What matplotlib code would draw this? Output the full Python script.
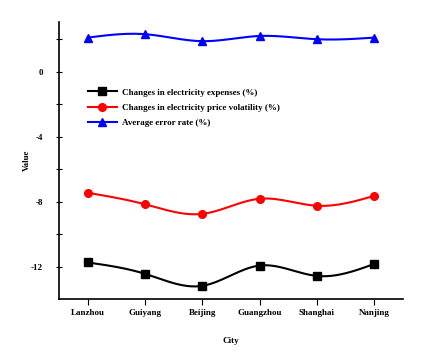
import numpy as np
import matplotlib
matplotlib.use("Agg")
import matplotlib.pyplot as plt

cities = ["Lanzhou", "Guiyang", "Beijing", "Guangzhou", "Shanghai", "Nanjing"]
expenses = [-11.75, -12.45, -13.19, -11.94, -12.58, -11.84]
price_vol = [-7.46, -8.17, -8.76, -7.83, -8.26, -7.65]
error_rate = [2.09, 2.30, 1.87, 2.19, 1.99, 2.09]

plt.rcParams['font.family'] = ['Liberation Serif', 'DejaVu Serif']


def smooth(x, y, n=200):
    # natural cubic spline, only used to draw the smooth connecting line
    x = np.asarray(x, float)
    y = np.asarray(y, float)
    k = len(x)
    h = np.diff(x)
    A = np.zeros((k, k))
    r = np.zeros(k)
    A[0, 0] = A[-1, -1] = 1
    for i in range(1, k - 1):
        A[i, i - 1] = h[i - 1]
        A[i, i] = 2 * (h[i - 1] + h[i])
        A[i, i + 1] = h[i]
        r[i] = 6 * ((y[i + 1] - y[i]) / h[i] - (y[i] - y[i - 1]) / h[i - 1])
    m = np.linalg.solve(A, r)
    xs = np.linspace(x[0], x[-1], n)
    idx = np.clip(np.searchsorted(x, xs) - 1, 0, k - 2)
    x0, x1 = x[idx], x[idx + 1]
    hh = x1 - x0
    t0, t1 = x1 - xs, xs - x0
    ys = (m[idx] * t0 ** 3 + m[idx + 1] * t1 ** 3) / (6 * hh) \
        + (y[idx] / hh - m[idx] * hh / 6) * t0 + (y[idx + 1] / hh - m[idx + 1] * hh / 6) * t1
    return xs, ys


fig = plt.figure(figsize=(4.34, 3.59), dpi=100)
ax = fig.add_axes([59 / 434, 1 - 299 / 359, (403 - 59) / 434, (299 - 22) / 359])

x = np.arange(len(cities))
series = [
    (expenses, 'black', 's', 'Changes in electricity expenses (%)'),
    (price_vol, 'red', 'o', 'Changes in electricity price volatility (%)'),
    (error_rate, 'blue', '^', 'Average error rate (%)'),
]
for vals, col, mk, lab in series:
    xs, ys = smooth(x, vals)
    ax.plot(xs, ys, color=col, lw=1.5)
    ax.plot(x, vals, color=col, marker=mk, ms=5.5, lw=0)
    ax.plot([], [], color=col, marker=mk, ms=5.5, lw=1.5, label=lab)

ax.set_xlim(-0.5, 5.5)
ax.set_ylim(-14, 3.05)
ax.set_xticks(x)
ax.set_xticklabels(cities, fontsize=6.5, fontweight='bold')
ax.set_yticks([0, -4, -8, -12])
ax.set_yticklabels(['0', '-4', '-8', '-12'], fontsize=6.5, fontweight='bold')
ax.set_yticks([2, -2, -6, -10], minor=True)
ax.tick_params(axis='y', which='both', direction='inout', length=5, width=0.8, pad=9)
ax.tick_params(axis='x', direction='out', length=4, width=0.8)
for s in ['top', 'right']:
    ax.spines[s].set_visible(False)
ax.spines['left'].set_linewidth(1.2)
ax.spines['bottom'].set_linewidth(1.2)

ax.set_xlabel('City', fontsize=6.5, fontweight='bold', labelpad=14)
ax.set_ylabel('Value', fontsize=6.5, fontweight='bold', labelpad=0)

ax.legend(loc='upper left', bbox_to_anchor=(0.06, 0.79), frameon=False,
          prop={'size': 6.5, 'weight': 'bold'}, handlelength=3.2,
          labelspacing=0.75, handletextpad=0.6)

fig.savefig('out.png', dpi=100)
